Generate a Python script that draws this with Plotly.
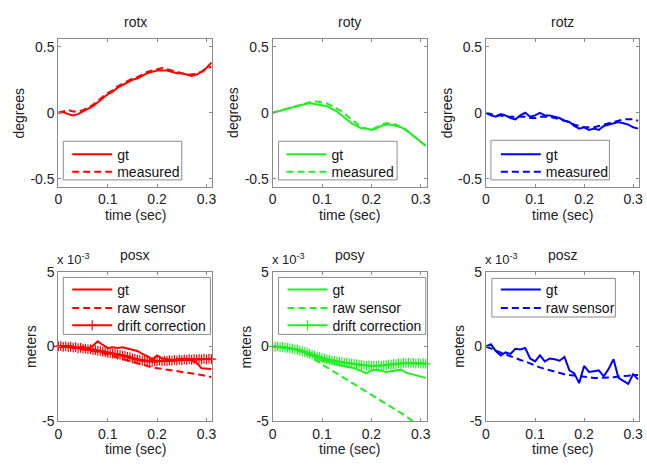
import plotly.graph_objects as go

T10 = [0.00, 0.01, 0.02, 0.03, 0.04, 0.05, 0.06, 0.07, 0.08, 0.09,
       0.10, 0.11, 0.12, 0.13, 0.14, 0.15, 0.16, 0.17, 0.18, 0.19,
       0.20, 0.21, 0.22, 0.23, 0.24, 0.25, 0.26, 0.27, 0.28, 0.29,
       0.30, 0.31]
T5 = [0.000, 0.005, 0.010, 0.015, 0.020, 0.025, 0.030, 0.035, 0.040, 0.045,
      0.050, 0.055, 0.060, 0.065, 0.070, 0.075, 0.080, 0.085, 0.090, 0.095,
      0.100, 0.105, 0.110, 0.115, 0.120, 0.125, 0.130, 0.135, 0.140, 0.145,
      0.150, 0.155, 0.160, 0.165, 0.170, 0.175, 0.180, 0.185, 0.190, 0.195,
      0.200, 0.205, 0.210, 0.215, 0.220, 0.225, 0.230, 0.235, 0.240, 0.245,
      0.250, 0.255, 0.260, 0.265, 0.270, 0.275, 0.280, 0.285, 0.290, 0.295,
      0.300, 0.305, 0.310]

rotx_gt = [0, 0.005, -0.01, -0.02, -0.01, 0.01, 0.03, 0.05, 0.08, 0.11, 0.14, 0.16, 0.19, 0.21, 0.23, 0.25,
           0.26, 0.28, 0.30, 0.31, 0.32, 0.32, 0.32, 0.31, 0.30, 0.30, 0.29, 0.28, 0.29, 0.31, 0.34, 0.38]
rotx_meas = [0, 0.01, 0.02, 0.01, 0.01, 0.02, 0.04, 0.06, 0.09, 0.12, 0.15, 0.17, 0.20, 0.22, 0.24, 0.26,
             0.27, 0.29, 0.31, 0.32, 0.33, 0.34, 0.33, 0.32, 0.31, 0.30, 0.29, 0.29, 0.30, 0.31, 0.33, 0.35]
roty_gt = [0, 0.01, 0.02, 0.03, 0.04, 0.05, 0.06, 0.07, 0.07, 0.065, 0.06, 0.05, 0.03, 0.01, -0.02, -0.05,
           -0.08, -0.10, -0.12, -0.12, -0.13, -0.12, -0.10, -0.09, -0.09, -0.10, -0.11, -0.13, -0.16, -0.19, -0.22, -0.25]
roty_meas = [0, 0.01, 0.02, 0.03, 0.045, 0.055, 0.065, 0.075, 0.085, 0.085, 0.08, 0.07, 0.05, 0.03, 0.01, -0.02,
             -0.05, -0.08, -0.11, -0.12, -0.13, -0.11, -0.09, -0.08, -0.08, -0.09, -0.11, -0.13, -0.16, -0.19, -0.22, -0.25]
rotz_gt = [0, -0.02, -0.03, -0.01, -0.02, -0.04, -0.05, -0.02, 0.0, -0.03, -0.02, 0.0, -0.02, -0.02, -0.03, -0.04,
           -0.06, -0.07, -0.10, -0.12, -0.11, -0.13, -0.12, -0.13, -0.10, -0.09, -0.08, -0.07, -0.08, -0.09, -0.11, -0.12]
rotz_meas = [0, -0.01, -0.02, -0.02, -0.03, -0.03, -0.03, -0.03, -0.03, -0.04, -0.04, -0.03, -0.03, -0.03, -0.04, -0.05,
             -0.06, -0.07, -0.09, -0.10, -0.11, -0.11, -0.11, -0.10, -0.09, -0.08, -0.07, -0.06, -0.05, -0.05, -0.05, -0.06]

posx_gt = [0, 0.05, 0.05, 0, -0.1, 0, -0.15, 0.05, 0.35, 0.1, -0.1, -0.05, -0.1, -0.05, -0.15, -0.2,
           -0.3, -0.5, -0.65, -0.9, -0.6, -0.8, -0.85, -0.9, -0.85, -0.85, -0.8, -0.95, -1.1, -1.45, -1.45, -1.5]
posx_raw = [0, 0, -0.05, -0.1, -0.15, -0.2, -0.25, -0.3, -0.35, -0.45, -0.55, -0.65, -0.75, -0.85, -0.92, -1.0,
            -1.15, -1.25, -1.35, -1.4, -1.45, -1.5, -1.55, -1.58, -1.62, -1.65, -1.7, -1.75, -1.82, -1.9, -1.97, -2.05]
posx_drift = [0.0, 0.02, -0.03, 0.0, -0.05, -0.02, -0.08, -0.05, -0.12, -0.1,
              -0.15, -0.14, -0.2, -0.18, -0.25, -0.24, -0.3, -0.3, -0.36, -0.38,
              -0.42, -0.44, -0.48, -0.5, -0.55, -0.56, -0.62, -0.63, -0.7, -0.72,
              -0.8, -0.82, -0.88, -0.9, -0.95, -0.93, -1.0, -0.97, -1.02, -0.98,
              -1.0, -0.95, -1.0, -0.94, -0.97, -0.92, -0.96, -0.9, -0.94, -0.88,
              -0.92, -0.87, -0.9, -0.85, -0.9, -0.84, -0.88, -0.83, -0.87, -0.82,
              -0.86, -0.82, -0.85]

posy_gt = [0, 0, -0.05, -0.1, -0.15, -0.2, -0.3, -0.4, -0.55, -0.8, -0.95, -1.0, -1.1, -1.2, -1.25, -1.35,
           -1.4, -1.5, -1.65, -1.8, -1.6, -1.55, -1.6, -1.7, -1.65, -1.6, -1.55, -1.75, -1.85, -1.95, -2.0, -2.1]
posy_raw = [0, 0, -0.05, -0.1, -0.15, -0.25, -0.35, -0.5, -0.75, -1.0, -1.2, -1.4, -1.6, -1.8, -2.0, -2.2,
            -2.4, -2.6, -2.85, -3.05, -3.25, -3.45, -3.65, -3.85, -4.05, -4.25, -4.45, -4.65, -4.9, -5.1, -5.3, -5.5]
posy_drift = [0.0, -0.02, 0.0, -0.05, -0.03, -0.08, -0.1, -0.12, -0.15, -0.2,
              -0.22, -0.28, -0.32, -0.38, -0.42, -0.5, -0.55, -0.62, -0.68, -0.72,
              -0.78, -0.82, -0.86, -0.9, -0.94, -0.97, -1.0, -1.02, -1.05, -1.08,
              -1.1, -1.12, -1.15, -1.17, -1.2, -1.22, -1.24, -1.26, -1.28, -1.27,
              -1.3, -1.28, -1.3, -1.27, -1.28, -1.24, -1.25, -1.2, -1.22, -1.17,
              -1.18, -1.12, -1.15, -1.1, -1.13, -1.08, -1.12, -1.1, -1.14, -1.1,
              -1.15, -1.12, -1.16]

posz_gt = [0, 0.15, -0.3, -0.6, -0.4, -0.5, -0.15, -0.2, -0.1, -0.8, -1.0, -0.6, -1.0, -0.8, -0.85, -0.95,
           -0.7, -1.6, -1.8, -2.45, -1.3, -1.7, -1.65, -1.6, -2.0, -1.5, -0.85, -2.1, -2.3, -2.5, -1.85, -2.2]
posz_raw = [0, -0.15, -0.3, -0.45, -0.55, -0.65, -0.8, -0.9, -1.0, -1.15, -1.3, -1.4, -1.5, -1.6, -1.7, -1.8,
            -1.85, -1.9, -1.95, -2.0, -2.05, -2.05, -2.1, -2.1, -2.1, -2.05, -2.05, -2.0, -2.0, -1.95, -1.9, -1.9]

TITLES = ["rotx", "roty", "rotz", "posx", "posy", "posz"]
XTICKS = [0, 0.1, 0.2, 0.3]
XTICKTEXT = ["0", "0.1", "0.2", "0.3"]
ROT_YTICKS = [-0.5, 0, 0.5]
ROT_YTICKTEXT = ["-0.5", "0", "0.5"]
POS_YTICKS = [-5, 0, 5]
POS_YTICKTEXT = ["-5", "0", "5"]

RED, GREEN, BLUE = "#ff0000", "#22ee22", "#0000ff"
W, H = 647, 466
FONT = "Liberation Sans, Arial, sans-serif"
FRAME = "#8a8a8a"
LEG_FONT = 14

# pixel geometry of the six axes boxes
COLS = [(55, 211), (272, 428), (488, 643)]
ROWS = [(32, 185), (273, 428)]
# legend frames (x0, y0, x1, y1), legend item x and item centre rows
LEG_BOX = [(60, 138, 180, 178), (278, 138, 398, 178), (493, 137, 613, 178),
           (60, 279, 209, 338), (278, 279, 427, 338), (494, 280, 619, 320)]
LEG_X = [64, 281, 498, 64, 282, 498]
LEG_ROWS = [[151, 169], [151, 169], [151, 169], [291, 310, 328], [291, 310, 328], [291, 310]]


def px(x):
    return x / W


def py(y):
    return 1 - y / H


fig = go.Figure()

rot_data = [(rotx_gt, rotx_meas, RED), (roty_gt, roty_meas, GREEN), (rotz_gt, rotz_meas, BLUE)]
pos_data = [(posx_gt, posx_raw, posx_drift, RED), (posy_gt, posy_raw, posy_drift, GREEN),
            (posz_gt, posz_raw, None, BLUE)]

DASH = "7px,4px"

# one legend per entry so each entry can sit on its own row
legend_specs = []  # (x_px, centre_y_px)


def new_legend(panel, row):
    legend_specs.append((LEG_X[panel], LEG_ROWS[panel][row]))
    k = len(legend_specs)
    return "legend" if k == 1 else f"legend{k}"


for i, (g, m, c) in enumerate(rot_data):
    n = i + 1
    xa = "x" if n == 1 else f"x{n}"
    ya = "y" if n == 1 else f"y{n}"
    fig.add_trace(go.Scatter(x=T10, y=g, mode="lines", name="gt", line=dict(color=c, width=2),
                             xaxis=xa, yaxis=ya, legend=new_legend(i, 0)))
    fig.add_trace(go.Scatter(x=T10, y=m, mode="lines", name="measured",
                             line=dict(color=c, width=2, dash=DASH), xaxis=xa, yaxis=ya,
                             legend=new_legend(i, 1)))

for i, (g, r, d, c) in enumerate(pos_data):
    n = i + 4
    xa, ya = f"x{n}", f"y{n}"
    fig.add_trace(go.Scatter(x=T10, y=g, mode="lines", name="gt", line=dict(color=c, width=2),
                             xaxis=xa, yaxis=ya, legend=new_legend(n - 1, 0)))
    fig.add_trace(go.Scatter(x=T10, y=r, mode="lines", name="raw sensor",
                             line=dict(color=c, width=2, dash=DASH), xaxis=xa, yaxis=ya,
                             legend=new_legend(n - 1, 1)))
    if d is not None:
        fig.add_trace(go.Scatter(x=T5, y=d, mode="lines+markers", name="drift correction",
                                 line=dict(color=c, width=2),
                                 marker=dict(symbol="cross-thin", size=7, color=c, line=dict(width=1.2, color=c)),
                                 xaxis=xa, yaxis=ya, legend=new_legend(n - 1, 2), cliponaxis=False))

axis_common = dict(showline=True, linecolor=FRAME, linewidth=1, mirror="ticks",
                   ticks="inside", ticklen=3, tickcolor=FRAME, showgrid=False, zeroline=False,
                   tickfont=dict(family=FONT, size=14, color="#222222"))

layout = dict(width=W, height=H, margin=dict(l=0, r=0, t=0, b=0),
              paper_bgcolor="white", plot_bgcolor="white", showlegend=True,
              font=dict(family=FONT, size=14, color="#222222"))

for n in range(1, 7):
    r = 0 if n <= 3 else 1
    c = (n - 1) % 3
    x0, x1 = COLS[c]
    y0, y1 = ROWS[r]
    xk = "xaxis" if n == 1 else f"xaxis{n}"
    yk = "yaxis" if n == 1 else f"yaxis{n}"
    xa = "x" if n == 1 else f"x{n}"
    ya = "y" if n == 1 else f"y{n}"
    layout[xk] = dict(domain=[px(x0), px(x1)], anchor=ya, range=[0, 0.312],
                      tickvals=XTICKS, ticktext=XTICKTEXT, **axis_common)
    if r == 0:
        layout[yk] = dict(domain=[py(y1), py(y0)], anchor=xa, range=[-0.56, 0.56],
                          tickvals=ROT_YTICKS, ticktext=ROT_YTICKTEXT, **axis_common)
    else:
        layout[yk] = dict(domain=[py(y1), py(y0)], anchor=xa, range=[-5, 5],
                          tickvals=POS_YTICKS, ticktext=POS_YTICKTEXT, **axis_common)

# plotly legend entry: height = max(1.3*font, 16) + 3, centre = top + h/2 + 5
ENTRY_H = max(1.3 * LEG_FONT, 16) + 3
legend_common = dict(bgcolor="rgba(0,0,0,0)", borderwidth=0,
                     font=dict(family=FONT, size=LEG_FONT, color="#111111"),
                     xanchor="left", yanchor="top", tracegroupgap=0, itemwidth=40)
for k, (lx, cy) in enumerate(legend_specs, start=1):
    key = "legend" if k == 1 else f"legend{k}"
    layout[key] = dict(x=px(lx), y=py(cy - ENTRY_H / 2 - 5), **legend_common)

fig.update_layout(**layout)

shapes = []
for (bx0, by0, bx1, by1) in LEG_BOX:
    shapes.append(dict(type="rect", xref="paper", yref="paper", x0=px(bx0), x1=px(bx1),
                       y0=py(by1), y1=py(by0), fillcolor="white",
                       line=dict(color=FRAME, width=1), layer="above"))

ann = []
for n in range(1, 7):
    r = 0 if n <= 3 else 1
    c = (n - 1) % 3
    x0, x1 = COLS[c]
    y0, y1 = ROWS[r]
    ann.append(dict(text=TITLES[n - 1], x=px((x0 + x1) / 2), y=py(y0 - 17), xref="paper", yref="paper",
                    showarrow=False, xanchor="center", yanchor="middle", font=dict(size=14)))
    ann.append(dict(text="time (sec)", x=px((x0 + x1) / 2), y=py(y1 + 29), xref="paper", yref="paper",
                    showarrow=False, xanchor="center", yanchor="middle", font=dict(size=14)))
    if r == 0:
        ann.append(dict(text="degrees", x=px(x0 - 40), y=py((y0 + y1) / 2), xref="paper", yref="paper",
                        showarrow=False, textangle=-90, xanchor="center", yanchor="middle", font=dict(size=14)))
    else:
        ann.append(dict(text="meters", x=px(x0 - 27), y=py((y0 + y1) / 2), xref="paper", yref="paper",
                        showarrow=False, textangle=-90, xanchor="center", yanchor="middle", font=dict(size=14)))
        ann.append(dict(text="x 10<sup>-3</sup>", x=px(x0 - 3), y=py(y0 - 13), xref="paper", yref="paper",
                        showarrow=False, xanchor="left", yanchor="middle", font=dict(size=13)))

fig.update_layout(annotations=ann, shapes=shapes)
fig.write_html("out.html", config={"displayModeBar": False},
               post_script="document.body.style.margin='0';document.body.style.padding='0';"
                           "document.body.style.overflow='hidden';")
